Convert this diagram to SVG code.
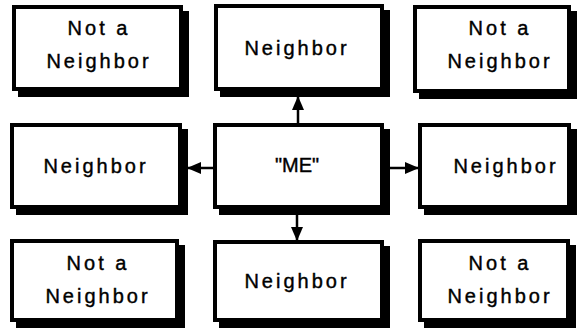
<svg xmlns="http://www.w3.org/2000/svg" width="580" height="330" viewBox="0 0 580 330">
  <style>
    .shadow { fill: #000; }
    .box { fill: #fff; stroke: #000; stroke-width: 4; }
    .lbl { font-family: "Liberation Sans", Arial, sans-serif; font-size: 20px; fill: #000; stroke: #000; stroke-width: 0.4; text-anchor: middle; letter-spacing: 3px; }
    .me { letter-spacing: 0; }
    .link { stroke: #000; stroke-width: 2.5; fill: none; marker-end: url(#head); }
  </style>
  <defs>
    <marker id="head" markerUnits="userSpaceOnUse" markerWidth="14" markerHeight="12" viewBox="0 0 14 12" refX="13" refY="6" orient="auto">
      <path d="M0,0 L14,6 L0,12 Z" fill="#000"/>
    </marker>
  </defs>
  <rect width="580" height="330" fill="#fff"/>

  <!-- top row -->
  <g id="node-top-left">
    <rect class="shadow" x="18" y="11" width="171" height="86"/>
    <rect class="box" x="14" y="7" width="167" height="82"/>
    <text class="lbl" x="99" y="35">Not a</text>
    <text class="lbl" x="99" y="68">Neighbor</text>
  </g>
  <g id="node-top">
    <rect class="shadow" x="220" y="10" width="170" height="87"/>
    <rect class="box" x="216" y="6" width="166" height="83"/>
    <text class="lbl" x="297" y="55">Neighbor</text>
  </g>
  <g id="node-top-right">
    <rect class="shadow" x="419" y="11" width="158" height="88"/>
    <rect class="box" x="415" y="7" width="154" height="84"/>
    <text class="lbl" x="500" y="35">Not a</text>
    <text class="lbl" x="500" y="68">Neighbor</text>
  </g>

  <!-- middle row -->
  <g id="node-left">
    <rect class="shadow" x="16" y="129" width="172" height="86"/>
    <rect class="box" x="12" y="125" width="168" height="82"/>
    <text class="lbl" x="96" y="173">Neighbor</text>
  </g>
  <g id="node-me">
    <rect class="shadow" x="219" y="129" width="171" height="86"/>
    <rect class="box" x="215" y="125" width="167" height="82"/>
    <text class="lbl me" x="297" y="172">"ME"</text>
  </g>
  <g id="node-right">
    <rect class="shadow" x="424" y="129" width="153" height="86"/>
    <rect class="box" x="420" y="125" width="149" height="82"/>
    <text class="lbl" x="506" y="173">Neighbor</text>
  </g>

  <!-- bottom row -->
  <g id="node-bottom-left">
    <rect class="shadow" x="16" y="245" width="169" height="83"/>
    <rect class="box" x="12" y="241" width="165" height="79"/>
    <text class="lbl" x="98" y="270">Not a</text>
    <text class="lbl" x="98" y="303">Neighbor</text>
  </g>
  <g id="node-bottom">
    <rect class="shadow" x="219" y="246" width="171" height="82"/>
    <rect class="box" x="215" y="242" width="167" height="78"/>
    <text class="lbl" x="297" y="288">Neighbor</text>
  </g>
  <g id="node-bottom-right">
    <rect class="shadow" x="424" y="245" width="152" height="83"/>
    <rect class="box" x="420" y="241" width="148" height="79"/>
    <text class="lbl" x="500" y="270">Not a</text>
    <text class="lbl" x="500" y="303">Neighbor</text>
  </g>

  <!-- connectors from the centre node to its four neighbours -->
  <g id="connectors">
    <line class="link" x1="298" y1="123" x2="298" y2="97"/>
    <line class="link" x1="297" y1="215" x2="297" y2="240"/>
    <line class="link" x1="213" y1="168" x2="188" y2="168"/>
    <line class="link" x1="390" y1="168" x2="418" y2="168"/>
  </g>
</svg>
